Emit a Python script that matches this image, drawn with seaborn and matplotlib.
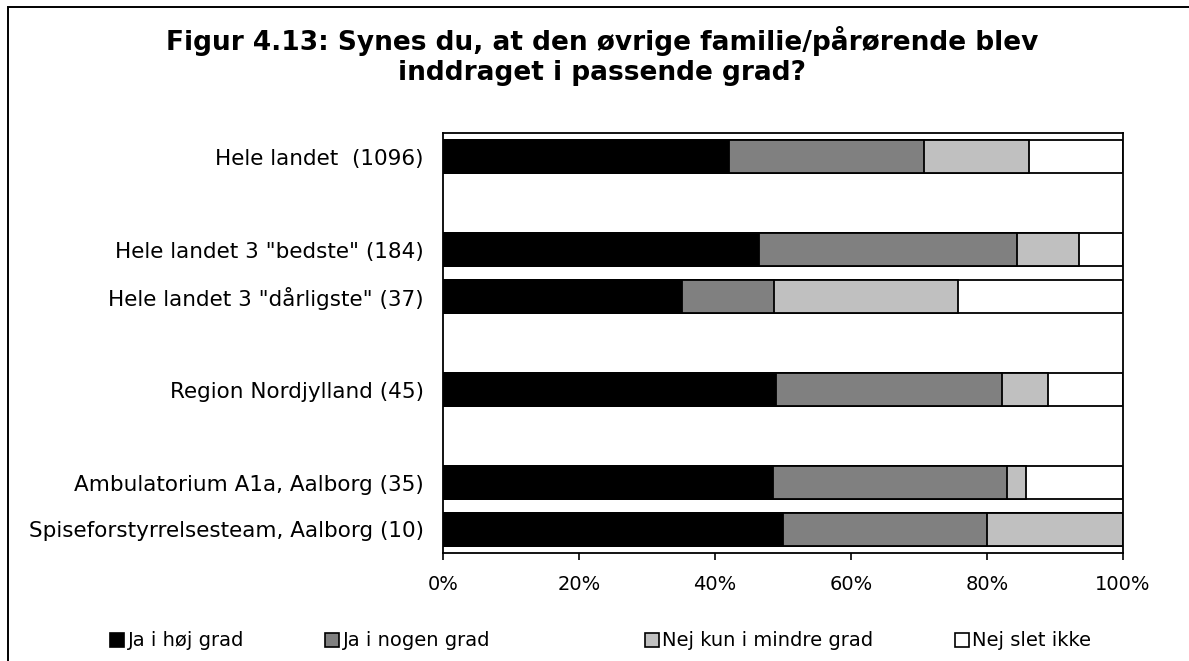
import numpy as np
import pandas as pd
import seaborn as sns
import matplotlib.pyplot as plt
from matplotlib.lines import Line2D
from matplotlib.patches import Rectangle

# groups (N) and blank spacer rows
groups = ['Hele landet  (1096)', 'Hele landet 3 "bedste" (184)', 'Hele landet 3 "dårligste" (37)',
          'Region Nordjylland (45)', 'Ambulatorium A1a, Aalborg (35)', 'Spiseforstyrrelsesteam, Aalborg (10)']
slots = [groups[0], ' ', groups[1], groups[2], '  ', groups[3], '   ', groups[4], groups[5]]

answers = ['Ja i høj grad', 'Ja i nogen grad', 'Nej kun i mindre grad', 'Nej slet ikke']
ja_hoj = [42.0, 46.4, 35.1, 48.9, 48.6, 50.0]
ja_nogen = [28.7, 38.0, 13.6, 33.3, 34.3, 30.0]
nej_mindre = [15.5, 9.2, 27.1, 6.7, 2.9, 20.0]
nej_slet = [13.8, 6.4, 24.2, 11.1, 14.2, 0.0]
colors = ['#000000', '#808080', '#c0c0c0', '#ffffff']

title = 'Figur 4.13: Synes du, at den øvrige familie/pårørende blev\ninddraget i passende grad?'

df = pd.DataFrame({'gruppe': groups, answers[0]: ja_hoj, answers[1]: ja_nogen,
                   answers[2]: nej_mindre, answers[3]: nej_slet})
cum = df[answers].cumsum(axis=1)

sns.set_style('white')
plt.rcParams['font.family'] = ['DejaVu Sans']
plt.rcParams['text.color'] = 'black'
plt.rcParams['xtick.color'] = 'black'
plt.rcParams['ytick.color'] = 'black'

W, H = 1189, 661
fig = plt.figure(figsize=(W / 100, H / 100), dpi=100)
ax = fig.add_axes([443 / W, 1 - 552.7 / H, 680 / W, (552.7 - 133.3) / H])

# stacked bars: draw cumulative totals from the right-most segment down
for ans, col in reversed(list(zip(answers, colors))):
    sns.barplot(x=cum[ans], y=df['gruppe'], order=slots, orient='h', color=col,
                saturation=1, edgecolor='black', linewidth=1.3, width=0.7, ax=ax)

ax.set_xlim(0, 100)
ax.set_ylim(8.5, -0.5)
ax.set_xlabel('')
ax.set_ylabel('')
ax.set_xticks(range(0, 101, 20))
ax.set_xticklabels([f'{v}%' for v in range(0, 101, 20)], fontsize=14)
ax.set_yticks(range(len(slots)))
ax.set_yticklabels(slots, fontsize=15.5)
ax.tick_params(axis='x', length=5, width=1.2, direction='out', pad=11, bottom=True)
ax.tick_params(axis='y', length=0, pad=14)
for s in ax.spines.values():
    s.set_color('black')
    s.set_linewidth(1.3)

fig.text(602 / W, 1 - 26 / H, title, ha='center', va='top', fontsize=19, fontweight='bold',
         linespacing=1.2)

# legend entries placed one by one
leg_x = [110, 325, 645, 955]
for ans, col, lx in zip(answers, colors, leg_x):
    h = Line2D([], [], marker='s', linestyle='none', markersize=9.5, markerfacecolor=col,
               markeredgecolor='black', markeredgewidth=1.2)
    fig.legend(handles=[h], labels=[ans], loc='center left', bbox_to_anchor=(lx / W, 1 - 641 / H),
               frameon=False, fontsize=14, handlelength=0.75, handletextpad=0.15,
               borderpad=0, borderaxespad=0)

fig.add_artist(Rectangle((8 / W, -0.05), 1.0, 1.05 - 7 / H, transform=fig.transFigure,
                         fill=False, edgecolor='black', linewidth=1.4))

fig.savefig('out.png', dpi=100)
